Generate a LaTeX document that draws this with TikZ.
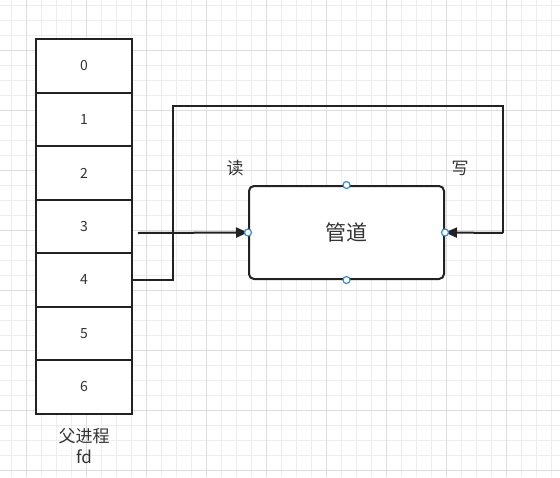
\documentclass[tikz,border=0pt]{standalone}
\usepackage{fontspec}
\setmainfont{Noto Sans CJK SC}
\usetikzlibrary{arrows.meta}
\definecolor{gridminor}{HTML}{EDEDED}
\definecolor{gridmajor}{HTML}{DDDDDD}
\definecolor{ink}{HTML}{222222}
\definecolor{txt}{HTML}{333333}
\definecolor{port}{HTML}{2E8BE6}
\tikzset{
  fdcell/.style={minimum width=96pt, minimum height=53.5pt, inner sep=0pt, font=\fontsize{14}{16}\selectfont, text=txt},
  cellline/.style={draw=ink, line width=2pt},
  pipebox/.style={draw=ink, line width=2pt, fill=white, rounded corners=5pt, minimum width=195pt, minimum height=93pt, inner sep=0pt, font=\fontsize{21}{24}\selectfont, text=txt},
  lbl/.style={font=\fontsize{17}{20}\selectfont, text=txt, inner sep=0pt},
  conn/.style={draw=ink, line width=2pt, -{Triangle[length=12pt, width=10pt]}},
  wire/.style={draw=ink, line width=2pt},
  portdot/.style={circle, draw=port, line width=1.2pt, fill=white, minimum size=7pt, inner sep=0pt},
}
\begin{document}
\begin{tikzpicture}[x=1pt, y=-1pt]
\useasboundingbox (0,0) rectangle (560,477);
\fill[white] (0,0) rectangle (560,477);
% grid
\foreach \i in {0,...,37} { \draw[gridminor, line width=1pt] (11.5+15*\i,0) -- (11.5+15*\i,477); }
\foreach \i in {0,...,31} { \draw[gridminor, line width=1pt] (0,5.5+15*\i) -- (560,5.5+15*\i); }
\foreach \i in {0,...,9} { \draw[gridmajor, line width=1pt] (26.5+60*\i,0) -- (26.5+60*\i,477); }
\foreach \i in {0,...,7} { \draw[gridmajor, line width=1pt] (0,50.5+60*\i) -- (560,50.5+60*\i); }
% fd cells
\fill[white] (36,39) rectangle (132,414);
\foreach \k/\yt/\yb in {0/39/93, 1/93/146, 2/146/200, 3/200/253, 4/253/307, 5/307/360, 6/360/414} {
  \node[fdcell] (c\k) at (84, {(\yt+\yb)/2}) {\k};
}
\draw[cellline] (36,39) rectangle (132,414);
\foreach \y in {93,146,200,253,307,360} { \draw[cellline] (36,\y) -- (132,\y); }
% pipe
\node[pipebox] (pipe) at (346.5,232.5) {管道};
% connectors
\coordinate (s3) at (138,233);
\draw[conn] (s3) -- (pipe.west);
\coordinate (p1) at (173,280);
\coordinate (p2) at (173,106);
\coordinate (p3) at (503,106);
\coordinate (p4) at (503,233);
\draw[wire] (c4.east |- p1) -- (p1) -- (p2) -- (p3) -- (p4);
\draw[conn] (p4) -- (pipe.east);
% ports
\node[portdot] (pn) at (pipe.north) {};
\node[portdot] (ps) at (pipe.south) {};
\node[portdot] (pw) at (pipe.west) {};
\node[portdot] (pe) at (pipe.east) {};
% labels
\node[lbl] (rd) at (235,168) {读};
\node[lbl] (wr) at (460,168) {写};
\node[lbl] (fa) at (84,436) {父进程};
\node[lbl] (fd) at (84,457) {fd};
\end{tikzpicture}
\end{document}
